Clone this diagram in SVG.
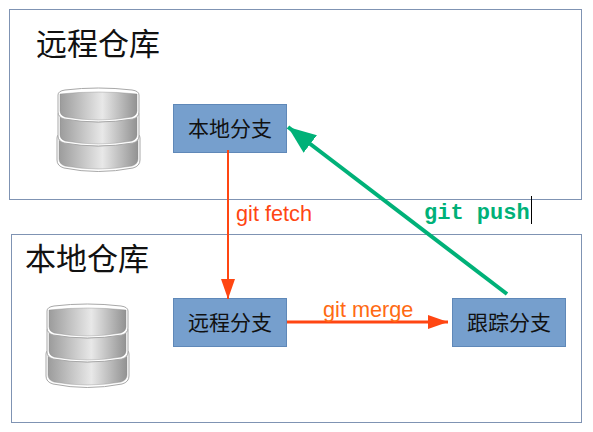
<svg xmlns="http://www.w3.org/2000/svg" width="593" height="432" viewBox="0 0 593 432">
<style>
.repo{fill:#fff;stroke:#7f93b3;stroke-width:1}
.box{fill:#769fcd;stroke:#5f88b8;stroke-width:1}
.t{font-family:"Noto Sans CJK SC","Noto Sans CJK JP",sans-serif;fill:#111;text-anchor:middle}
.big{font-size:31px;text-anchor:start}
.mid{font-size:21px}
.lab{font-family:"Liberation Sans",Arial,sans-serif;font-size:21.700px}
.out{fill:#fff;stroke:#a8a8a8;stroke-width:1}
.seg{fill:url(#g);stroke:#8c8c8c;stroke-width:.4}
</style>
<defs>
<linearGradient id="g" x1="0" x2="1" y1="0" y2="0">
<stop offset="0" stop-color="#9c9c9c"/><stop offset=".55" stop-color="#e8e8e8"/><stop offset="1" stop-color="#929292"/>
</linearGradient>
<g id="db">
<path class="out" d="M0,50 Q0,47 2,46 H81 Q83,47 83,50 V72 Q83,78 76,80 Q41,87 7,80 Q0,78 0,72 Z"/>
<path class="seg" d="M2,50 Q8,56 41,58 Q75,56 81,50 V71 Q81,76 75,78 Q41,84 8,78 Q2,76 2,71 Z"/>
<path class="out" d="M1,26 Q1,24 3,23 H80 Q82,24 82,26 V48 Q82,53 76,55 Q41,61 7,55 Q1,53 1,48 Z"/>
<path class="seg" d="M3,27 Q8,32 41,34 Q75,32 80,27 V47 Q80,51 75,53 Q41,59 8,53 Q3,51 3,47 Z"/>
<path class="out" d="M1,7 Q1,3 8,2 Q41,-2 75,2 Q82,3 82,7 V24 Q82,29 76,31 Q41,37 7,31 Q1,29 1,24 Z"/>
<path class="seg" d="M3,6 Q41,2 80,6 V23 Q80,27 75,29 Q41,35 8,29 Q3,27 3,23 Z"/>
</g>
<marker id="ar" markerUnits="userSpaceOnUse" markerWidth="22" markerHeight="16" refX="20" refY="7" orient="auto"><path d="M0,0 L20,7 L0,14 Z" fill="#ff4612"/></marker>
<marker id="ag" markerUnits="userSpaceOnUse" markerWidth="30" markerHeight="24" refX="28" refY="11" orient="auto"><path d="M0,0 L28,11 L0,22 Z" fill="#00b178"/></marker>
</defs>

<g id="remote-repo">
<rect class="repo" x="9.500" y="9.500" width="572" height="190"/>
<text class="t big" x="36" y="55">远程仓库</text>
<use href="#db" x="57" y="88"/>
</g>
<g id="local-repo">
<rect class="repo" x="11.500" y="234.500" width="570" height="188"/>
<text class="t big" x="25" y="270">本地仓库</text>
<use href="#db" x="46" y="304"/>
</g>
<g id="local-branch">
<rect class="box" x="173.500" y="104.500" width="113" height="48"/>
<text class="t mid" x="230" y="136">本地分支</text>
</g>
<g id="remote-branch">
<rect class="box" x="173.500" y="298.500" width="113" height="48"/>
<text class="t mid" x="230" y="330">远程分支</text>
</g>
<g id="tracking-branch">
<rect class="box" x="452.500" y="298.500" width="113" height="48"/>
<text class="t mid" x="509" y="330">跟踪分支</text>
</g>
<g id="connectors">
<line x1="228" y1="150" x2="228" y2="299" stroke="#ff4612" stroke-width="2" marker-end="url(#ar)"/>
<line x1="287" y1="322" x2="448" y2="322" stroke="#ff4612" stroke-width="3" marker-end="url(#ar)"/>
<line x1="507" y1="294" x2="288" y2="127" stroke="#00b178" stroke-width="4" marker-end="url(#ag)"/>
</g>
<g id="labels">
<text class="lab" x="236" y="221" fill="#ff4612">git fetch</text>
<text class="lab" x="323" y="317" fill="#ff6a13">git merge</text>
<text x="424" y="219" font-family="'Liberation Mono',monospace" font-size="22" font-weight="700" fill="#00b178">git push</text>
<line x1="531.500" y1="196" x2="531.500" y2="224" stroke="#000" stroke-width="1"/>
</g>
</svg>
